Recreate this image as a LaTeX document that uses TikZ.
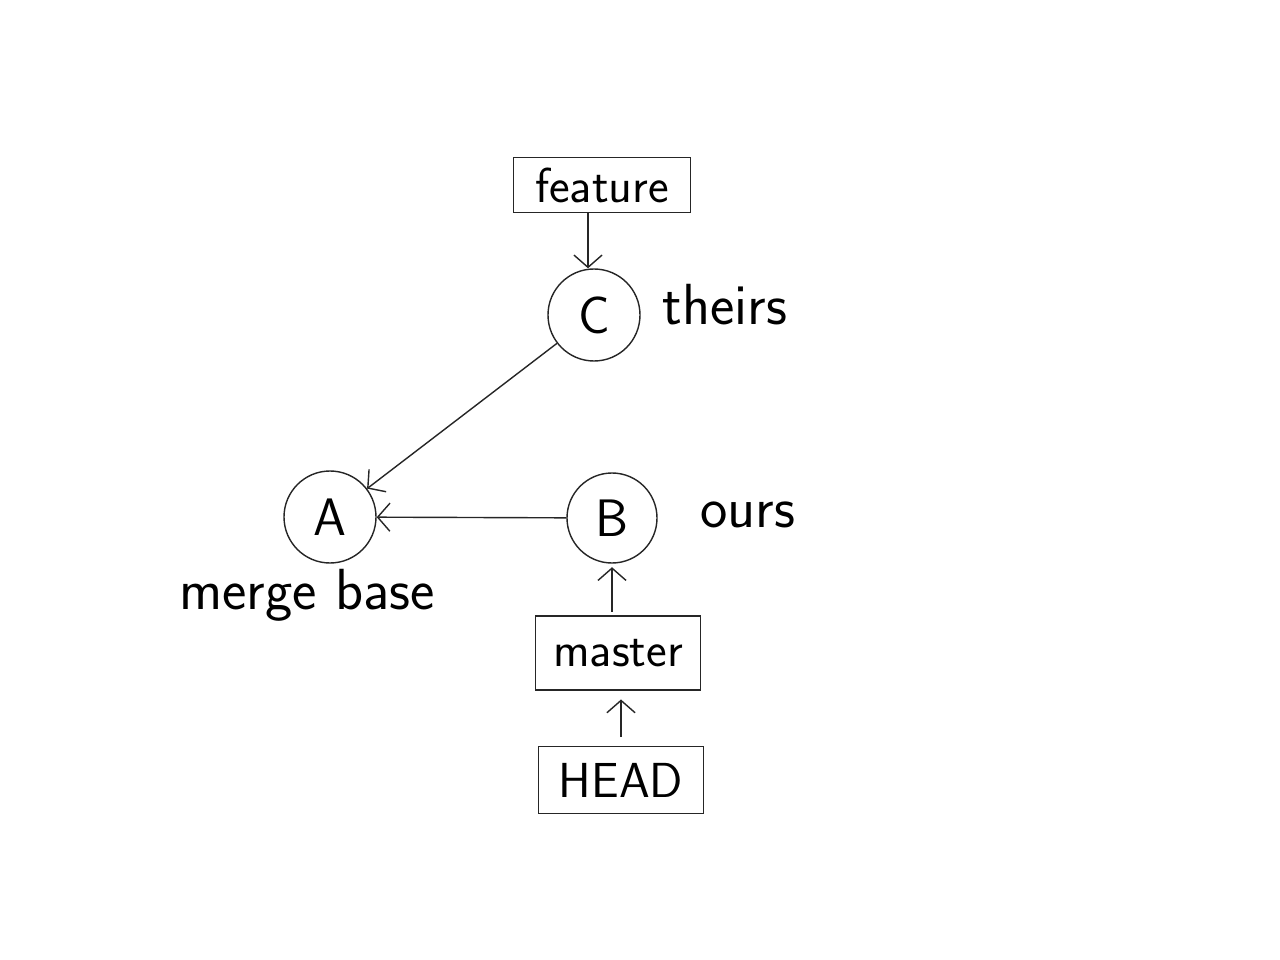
\documentclass[tikz,border=0pt]{standalone}
\usepackage{tikz}
\usetikzlibrary{arrows.meta}

\tikzset{
    commit/.style={draw, circle, minimum size=1.84cm, inner sep=0pt, font=\fontsize{30}{32}\sffamily},
    branch/.style={draw, rectangle, minimum width=3.3cm, inner sep=0pt, font=\fontsize{28}{30}\sffamily},
    note/.style={font=\fontsize{33}{35}\sffamily},
    link/.style={-{Straight Barb[length=7pt,width=16pt]}}
}

\begin{document}
\begin{tikzpicture}[line width=0.8pt, draw=black!85]
        \useasboundingbox (0, 0) rectangle (25.6, -19.2);

        \node [branch, minimum width=3.54cm, minimum height=1.1cm] (feature) at (12.04, -3.70) {feature};
        \node [commit] (C) at (11.88, -6.30) {C};
        \node [note] (theirs) at (14.5, -6.10) {theirs};

        \node [commit] (A) at (6.60, -10.34) {A};
        \node [commit, minimum size=1.8cm] (B) at (12.24, -10.36) {B};
        \node [note] (ours) at (14.96, -10.30) {ours};
        \node [note] (mergebase) at (6.14, -11.90) {merge base};

        \node [branch, minimum height=1.48cm] (master) at (12.36, -13.06) {master};
        \node [branch, minimum height=1.34cm] (HEAD) at (12.42, -15.60) {HEAD};

        \draw [link] (feature.south -| C.north) ++(-0.12, 0) coordinate (fs) -- (fs |- C.north);
        \draw [link] (C) -- (A);
        \draw [link] (B) -- (A);
        \draw [link, shorten <=2pt, shorten >=2pt] (master.north -| B.south) -- (B.south);
        \draw [link, shorten <=5pt, shorten >=5pt] (HEAD.north) -- (master.south -| HEAD.north);
    \end{tikzpicture}
\end{document}
